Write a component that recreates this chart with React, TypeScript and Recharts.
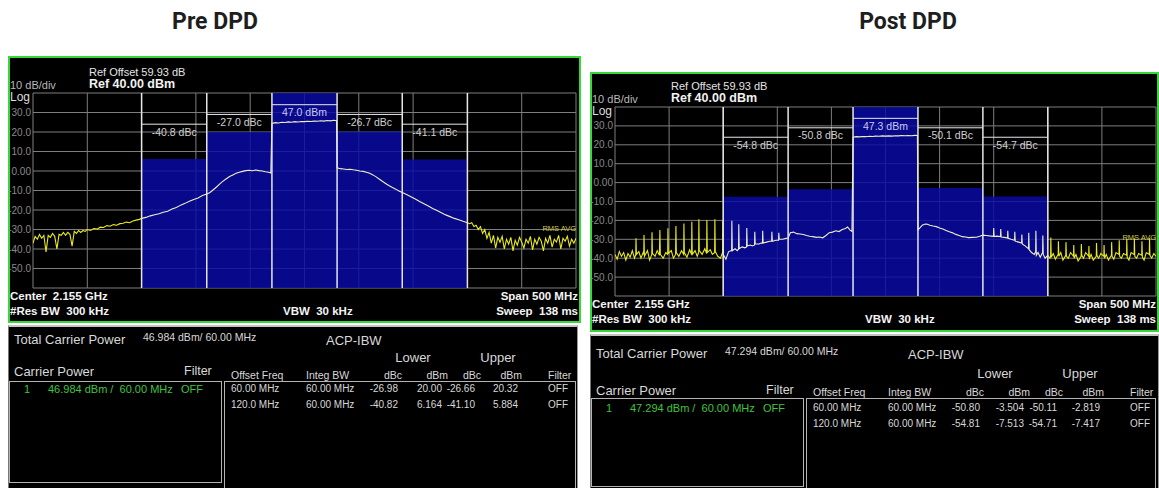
import React from "react";
import {
  ComposedChart,
  Line,
  XAxis,
  YAxis,
  CartesianGrid,
  ReferenceArea,
  ReferenceLine,
} from "recharts";

const FONT = '"Liberation Sans", Arial, Helvetica, sans-serif';

// channels, MHz offset from the 2.155 GHz centre
const channelOffsets = [-120, -60, 0, 60, 120];
const channelBw = 60;
const xTicks = [-250, -200, -150, -100, -50, 0, 50, 100, 150, 200, 250];
const yTicks = [40, 30, 20, 10, 0, -10, -20, -30, -40, -50, -60];

// ACP results: lower alt, lower adj, carrier, upper adj, upper alt
const preChannelDbm = [6.164, 20.0, 46.984, 20.32, 5.884];
const preChannelDbc = [-40.82, -26.98, 0, -26.66, -41.1];
const postChannelDbm = [-7.513, -3.504, 47.294, -2.819, -7.417];
const postChannelDbc = [-54.81, -50.8, 0, -50.11, -54.71];

const acpOffsets = ["60.00 MHz", "120.0 MHz"];
const acpIntegBw = "60.00 MHz";

// spectrum traces [MHz offset, dBm]
const preTrace: [number, number][] = [
  [-250, -37], [-248, -33.5], [-246, -35], [-244, -32.5], [-242, -34.5], [-240, -33],
  [-238, -41.5], [-236, -33], [-234, -34], [-232, -32], [-230, -33.5], [-228, -40],
  [-226, -32.5], [-224, -33], [-222, -31.5], [-220, -33], [-218, -31.5], [-216, -32.5],
  [-214, -38.5], [-212, -31], [-210, -32], [-208, -30.5], [-206, -31.5], [-204, -30.5],
  [-202, -31], [-200, -30], [-197, -30.5], [-194, -29.5], [-191, -29.8], [-188, -28.8],
  [-185, -29], [-182, -28], [-179, -28.3], [-176, -27.5], [-173, -27.8], [-170, -27],
  [-167, -26.8], [-164, -26.2], [-161, -26.5], [-158, -25.6], [-155, -25.2], [-152, -24.8],
  [-150, -24.3], [-146, -23.8], [-142, -23], [-138, -22.4], [-134, -21.9], [-130, -21.2],
  [-126, -20.6], [-122, -19.5], [-118, -18.7], [-114, -17.5], [-110, -16.6], [-106, -15.5],
  [-102, -14.6], [-98, -13.8], [-94, -12.6], [-90, -11.8], [-87, -11], [-84, -9.6],
  [-81, -8.2], [-78, -6.6], [-75, -5.2], [-72, -4], [-69, -2.8], [-66, -2], [-63, -1.2],
  [-60, -0.6], [-57, -0.2], [-54, 0.2], [-51, 0.4], [-48, 0.1], [-45, 0.5], [-42, 0.2],
  [-39, 0], [-36, -0.4], [-33, -0.6], [-31, -1], [-30, 24.4], [-27, 24.8], [-24, 24.6],
  [-21, 25], [-18, 24.9], [-15, 25.2], [-12, 25], [-9, 25.3], [-6, 25.1], [-3, 25.4],
  [0, 25.3], [3, 25.5], [6, 25.4], [9, 25.6], [12, 25.5], [15, 25.8], [18, 25.6],
  [21, 25.9], [24, 25.7], [27, 26], [29.5, 25.8], [30, 1.6], [33, 1.2], [36, 1], [39, 0.8],
  [42, 0.9], [45, 0.6], [48, 0.4], [51, 0], [54, -0.2], [57, -0.6], [60, -1.2], [63, -2],
  [66, -3], [69, -4.2], [72, -5.4], [75, -6.5], [78, -7.6], [81, -8.5], [84, -9.3],
  [87, -10.2], [90, -11], [94, -12], [98, -13.2], [102, -14.4], [106, -15.6], [110, -16.8],
  [114, -18], [118, -19.2], [122, -20.3], [126, -21.4], [130, -22.5], [134, -23.4],
  [138, -24.3], [142, -25], [146, -25.8], [150, -26.5], [152, -27], [154, -26.5],
  [156, -28.5], [158, -27.8], [160, -30], [162, -28.5], [164, -32], [166, -30],
  [168, -34.5], [170, -31.5], [172, -37], [174, -33], [176, -39.5], [178, -34],
  [180, -36.5], [182, -33.5], [184, -40], [186, -35], [188, -37.5], [190, -34],
  [192, -41], [194, -35.5], [196, -38], [198, -34], [200, -36.5], [202, -39.5],
  [204, -35], [206, -37], [208, -33.5], [210, -40.5], [212, -35], [214, -37.5],
  [216, -34], [218, -36], [220, -41], [222, -34.5], [224, -37], [226, -33], [228, -39],
  [230, -35], [232, -36.5], [234, -33], [236, -40], [238, -34.5], [240, -36],
  [242, -33.5], [244, -38.5], [246, -35], [248, -37], [250, -34.5],
];

const postTrace: [number, number][] = [
  [-250, -38], [-248, -40.5], [-246, -36.5], [-244, -39], [-242, -37], [-240, -41],
  [-238, -37.5], [-236, -39.5], [-234, -36], [-232, -40], [-230.8, -38], [-230.6, -29.5],
  [-230.2, -38], [-228, -36.5], [-226, -40], [-224, -37], [-223.4, -38], [-223.2, -27.7],
  [-222.8, -39], [-220, -36], [-218, -41], [-216, -38], [-215.8, -26.3], [-215.4, -37.5],
  [-213, -39], [-211, -36], [-209, -38.5], [-208.5, -25.1], [-208.1, -38], [-205.5, -40],
  [-203, -37], [-201.3, -38], [-201.1, -24.2], [-200.7, -37.5], [-198, -36], [-196, -40],
  [-194, -38], [-193.7, -23], [-193.3, -37], [-191, -39], [-188.5, -36], [-186.5, -38],
  [-186.3, -21.6], [-185.9, -37], [-183.5, -39.5], [-181, -35.5], [-179.2, -38],
  [-179, -20.7], [-178.6, -38], [-176, -36], [-174, -39], [-172.7, -37], [-172.5, -19.4],
  [-172.1, -36], [-169.5, -38], [-167, -35], [-165.3, -37.5], [-165.1, -19.8],
  [-164.7, -37], [-162, -35.5], [-160, -38], [-157.9, -37], [-157.7, -19.4],
  [-157.3, -36.5], [-155, -39], [-152.5, -40], [-150.6, -37], [-150.4, -20], [-150, -38],
  [-147.5, -40.5], [-145, -36.5], [-142.2, -36], [-142, -20.2], [-141.6, -36],
  [-139, -35], [-137, -36], [-135.8, -35], [-135.6, -22], [-135.2, -35], [-132.5, -34],
  [-130, -34.5], [-128.4, -34], [-128.2, -24], [-127.8, -33.5], [-125, -33],
  [-123, -33.5], [-121, -33], [-120.8, -26], [-120.4, -32.5], [-117, -32.5], [-115, -32],
  [-113.7, -32], [-113.5, -25.5], [-113.1, -32], [-110, -31.5], [-107, -31],
  [-105.2, -31], [-105, -26], [-104.6, -31], [-101, -30.5], [-98.8, -30.5],
  [-98.6, -26.5], [-98.2, -30], [-95, -30], [-92, -29.5], [-90, -29.3], [-88, -26.5],
  [-85, -26.2], [-82, -27], [-79, -27.2], [-76, -27.5], [-73, -28], [-70, -28.4],
  [-67, -28.6], [-64, -29], [-61, -28.8], [-58, -29.2], [-55, -28], [-52, -26.5],
  [-49, -26.2], [-46, -25.5], [-43, -25.9], [-40, -24.8], [-37, -24.3], [-35, -23.5],
  [-33, -25], [-31, -25.8], [-30, 24], [-27, 24.3], [-24, 24.2], [-21, 24.4], [-18, 24.3],
  [-15, 24.5], [-12, 24.4], [-9, 24.6], [-6, 24.5], [-3, 24.7], [0, 24.6], [3, 24.7],
  [6, 24.6], [9, 24.8], [12, 24.7], [15, 24.9], [18, 24.8], [21, 24.9], [24, 24.8],
  [27, 25], [29.5, 24.9], [30, -25], [32, -23.8], [34, -22.5], [36, -22], [38, -21.9],
  [41, -22.6], [44, -23], [47, -23.3], [50, -24], [53, -24.6], [56, -25.3], [59, -26],
  [62, -26.6], [65, -27.4], [68, -28], [71, -28.6], [74, -28.8], [77, -29.1], [80, -29],
  [84, -28.9], [87, -28.4], [90, -27.8], [93, -28], [96, -28.2], [99.8, -28.4], [100, -24],
  [100.4, -28.5], [103, -28.3], [106.3, -28.6], [106.5, -24.5], [106.9, -28.8], [110, -29],
  [112.8, -29.3], [113, -25.5], [113.4, -29.5], [116, -30], [119.3, -30.5], [119.5, -26],
  [119.9, -31], [123, -31.5], [125.8, -32], [126, -27.5], [126.4, -32.5], [129, -33.5],
  [132.2, -35], [132.4, -26.5], [132.8, -35.5], [135, -37], [137.5, -38], [138.8, -36.5],
  [139, -25.5], [139.4, -38.5], [141, -37], [143, -39.5], [145.2, -37], [145.4, -28],
  [145.8, -38], [147.5, -40], [150, -38.5], [152, -40], [152.6, -39], [152.8, -29],
  [153.2, -39.5], [155, -37.5], [157, -40.5], [159.6, -38], [159.8, -31], [160.2, -39],
  [162, -37], [164, -41], [166.6, -38.5], [166.8, -31.5], [167.2, -39], [169, -40],
  [171, -37], [173.8, -39], [174, -33], [174.4, -40], [176, -38], [178, -41.5],
  [180.8, -39], [181, -32.5], [181.4, -38.5], [183, -40], [185, -37], [187.8, -39],
  [188, -33.5], [188.4, -40.5], [190, -38], [192, -41], [194.8, -39], [195, -32],
  [195.4, -38.5], [197, -40], [199, -37.5], [201.8, -39], [202, -33], [202.4, -40],
  [204, -38], [206, -41], [208.8, -38.5], [209, -31.5], [209.4, -39], [211, -40.5],
  [213, -37], [215.8, -38], [216, -30.5], [216.4, -39], [218, -40], [220, -37.5],
  [222.8, -38.5], [223, -29.8], [223.4, -39.5], [225, -41], [227, -37], [229.8, -38],
  [230, -29.5], [230.4, -39], [232, -40], [234, -37.5], [236.8, -38.5], [237, -31],
  [237.4, -39.5], [239, -41], [241, -37], [243.8, -38], [244, -29.5], [244.4, -38.5],
  [246, -40], [248, -37.5], [250, -39],
];

type Box = { left: number; top: number; right: number; bottom: number };
type PanelSpec = {
  id: string;
  title: string;
  titleX: number;
  frame: Box;
  plot: Box;
  table: {
    top: number;
    right: number;
    tcp: number;
    lu: number;
    cp: number;
    hdr: number;
    box: number;
    r1: number;
    r2: number;
    cbBottom: number;
    acpRight: number;
  };
  trace: [number, number][];
  dbm: number[];
  dbc: number[];
};

const prePanel: PanelSpec = {
  id: "pre",
  title: "Pre DPD",
  titleX: 215,
  frame: { left: 8, top: 56, right: 581, bottom: 323 },
  plot: { left: 33, top: 93, right: 576, bottom: 288 },
  table: { top: 325, right: 578, tcp: 339, lu: 357, cp: 371, hdr: 375, box: 381, r1: 389, r2: 405, cbBottom: 483, acpRight: 576 },
  trace: preTrace,
  dbm: preChannelDbm,
  dbc: preChannelDbc,
};

const postPanel: PanelSpec = {
  id: "post",
  title: "Post DPD",
  titleX: 908,
  frame: { left: 590, top: 72, right: 1159, bottom: 332 },
  plot: { left: 615, top: 107, right: 1156, bottom: 296 },
  table: { top: 334, right: 1159, tcp: 353, lu: 373, cp: 390, hdr: 392, box: 398, r1: 408, r2: 424, cbBottom: 487, acpRight: 1156 },
  trace: postTrace,
  dbm: postChannelDbm,
  dbc: postChannelDbc,
};

function Txt({
  x,
  y,
  children,
  size = 11,
  color = "#d8d8d8",
  bold = false,
  anchor = "start",
  family = FONT,
}: {
  x: number;
  y: number;
  children: React.ReactNode;
  size?: number;
  color?: string;
  bold?: boolean;
  anchor?: "start" | "middle" | "end";
  family?: string;
}) {
  const tx = anchor === "start" ? "0" : anchor === "end" ? "-100%" : "-50%";
  return (
    <div
      style={{
        position: "absolute",
        left: x,
        top: y,
        transform: `translate(${tx}, -50%)`,
        fontSize: size,
        fontFamily: family,
        fontWeight: bold ? 700 : 400,
        color,
        whiteSpace: "pre",
        lineHeight: 1,
      }}
    >
      {children}
    </div>
  );
}

const fmt4 = (v: number) => v.toPrecision(4);

function Panel({ p }: { p: PanelSpec }) {
  const { frame, plot, table } = p;
  const L = frame.left;
  // axis box reaches a bit left of the frame so long labels like -10.0 fit
  const yAxisW = plot.left - frame.left + 6;
  const plotW = plot.right - plot.left;
  const plotH = plot.bottom - plot.top;
  const data = p.trace.map(([f, v]) => ({ f, v }));
  const edges = Array.from(
    new Set(channelOffsets.flatMap((c) => [c - channelBw / 2, c + channelBw / 2])),
  );
  const lo = -250;
  const span = 500;
  const inStart = (edges[0] - lo) / span;
  const inEnd = (edges[edges.length - 1] - lo) / span;
  const gradId = `trace-${p.id}`;
  const markerLevel = (c: number) => (c === 0 ? 34 : Math.abs(c) === 60 ? 29 : 24);
  const yOf = (v: number) => plot.top + ((40 - v) / 100) * plotH;

  const rows = acpOffsets.map((off, k) => {
    const li = 1 - k;
    const ui = 3 + k;
    return { off, ldbc: fmt4(p.dbc[li]), ldbm: fmt4(p.dbm[li]), udbc: fmt4(p.dbc[ui]), udbm: fmt4(p.dbm[ui]) };
  });
  const rowYs = [table.r1, table.r2];

  return (
    <>
      <Txt x={p.titleX} y={21} size={23} bold color="#1e1e1e" anchor="middle" family='Roboto, "Open Sans", sans-serif'>
        {p.title}
      </Txt>
      <div
        style={{
          position: "absolute",
          left: frame.left,
          top: frame.top,
          width: frame.right - frame.left,
          height: frame.bottom - frame.top,
          background: "#000",
          border: "2px solid #36d936",
          boxSizing: "border-box",
        }}
      />
      <div style={{ position: "absolute", left: plot.left - yAxisW, top: plot.top - 1 }}>
        <ComposedChart
          width={yAxisW + plotW + 1}
          height={plotH + 2}
          data={data}
          margin={{ top: 1, right: 1, bottom: 1, left: 0 }}
        >
          <defs>
            <linearGradient id={gradId} x1="0" y1="0" x2="1" y2="0">
              <stop offset={0} stopColor="#e9e91c" />
              <stop offset={inStart} stopColor="#e9e91c" />
              <stop offset={inStart} stopColor="#eeeec8" />
              <stop offset={inEnd} stopColor="#eeeec8" />
              <stop offset={inEnd} stopColor="#e9e91c" />
              <stop offset={1} stopColor="#e9e91c" />
            </linearGradient>
          </defs>
          <XAxis type="number" dataKey="f" domain={[-250, 250]} ticks={xTicks} hide allowDataOverflow />
          <YAxis
            type="number"
            domain={[-60, 40]}
            ticks={yTicks}
            interval={0}
            width={yAxisW}
            axisLine={false}
            tickLine={false}
            tickSize={0}
            tickMargin={2}
            allowDataOverflow
            tick={{ fill: "#8a8a8a", fontSize: 10, fontFamily: FONT }}
            tickFormatter={(v: number) => (v === 40 || v === -60 ? "" : v === 0 ? "0.00" : v.toFixed(1))}
          />
          {channelOffsets.map((c, i) => (
            <ReferenceArea
              key={`band-${c}`}
              x1={c - channelBw / 2}
              x2={c + channelBw / 2}
              y1={-60}
              y2={p.dbm[i]}
              fill="#0a0aa6"
              fillOpacity={0.84}
              stroke="none"
              ifOverflow="hidden"
            />
          ))}
          <CartesianGrid stroke="#7e7e7e" strokeWidth={1} />
          <Line
            type="linear"
            dataKey="v"
            stroke={`url(#${gradId})`}
            strokeWidth={1.1}
            dot={false}
            isAnimationActive={false}
          />
          {edges.map((e) => (
            <ReferenceLine key={`edge-${e}`} x={e} stroke="#e6e6e6" strokeWidth={1.5} />
          ))}
          {channelOffsets.map((c, i) => (
            <ReferenceLine
              key={`mk-${c}`}
              segment={[
                { x: c - channelBw / 2, y: markerLevel(c) },
                { x: c + channelBw / 2, y: markerLevel(c) },
              ]}
              stroke="#e8e8e8"
              strokeWidth={1}
              label={{
                value: c === 0 ? `${p.dbm[i].toFixed(1)} dBm` : `${p.dbc[i].toFixed(1)} dBc`,
                position: "bottom",
                offset: 4,
                fill: c === 0 ? "#c8c8ee" : "#d0d0d0",
                fontSize: 10.5,
                fontFamily: FONT,
              }}
            />
          ))}
        </ComposedChart>
      </div>

      {/* instrument annotations */}
      <Txt x={L + 81} y={plot.top - 21} size={11} color="#e4e4e4">Ref Offset 59.93 dB</Txt>
      <Txt x={L + 81} y={plot.top - 9} size={12.5} bold color="#f2f2f2">Ref 40.00 dBm</Txt>
      <Txt x={L + 2} y={plot.top - 8} size={11} color="#b8b8b8">10 dB/div</Txt>
      <Txt x={L + 2} y={plot.top + 4} size={12} color="#dcdcdc">Log</Txt>
      <Txt x={plot.right} y={yOf(-29.5)} size={7.5} color="#c9c94a" anchor="end">RMS AVG</Txt>
      <Txt x={L + 2} y={plot.bottom + 9} size={11.5} bold color="#f4f4f4">{"Center  2.155 GHz"}</Txt>
      <Txt x={L + 2} y={plot.bottom + 24} size={11.5} bold color="#f4f4f4">{"#Res BW  300 kHz"}</Txt>
      <Txt x={L + 275} y={plot.bottom + 24} size={11.5} bold color="#f4f4f4">{"VBW  30 kHz"}</Txt>
      <Txt x={frame.right - 3} y={plot.bottom + 9} size={11.5} bold color="#f4f4f4" anchor="end">Span 500 MHz</Txt>
      <Txt x={frame.right - 3} y={plot.bottom + 24} size={11.5} bold color="#f4f4f4" anchor="end">{"Sweep  138 ms"}</Txt>

      {/* ACP table */}
      <div
        style={{
          position: "absolute",
          left: L,
          top: table.top,
          width: table.right - L,
          height: 488 - table.top + 4,
          background: "#000",
          borderTop: "2px solid #c4c4c4",
          borderLeft: "1px solid #777",
          borderRight: "1px solid #999",
          boxSizing: "border-box",
        }}
      />
      <div
        style={{
          position: "absolute",
          left: L + 1,
          top: table.box,
          width: 213,
          height: table.cbBottom - table.box,
          border: "1px solid #b4b4b4",
          boxSizing: "border-box",
        }}
      />
      <div
        style={{
          position: "absolute",
          left: L + 216,
          top: table.box,
          width: table.acpRight - (L + 216),
          height: 488 - table.box + 10,
          border: "1px solid #b4b4b4",
          boxSizing: "border-box",
        }}
      />
      <Txt x={L + 6} y={table.tcp} size={13}>Total Carrier Power</Txt>
      <Txt x={L + 135} y={table.tcp - 2} size={10.5}>{`${p.dbm[2].toFixed(3)} dBm/ 60.00 MHz`}</Txt>
      <Txt x={L + 318} y={table.tcp + 1} size={13}>ACP-IBW</Txt>
      <Txt x={L + 405} y={table.lu} size={13} anchor="middle">Lower</Txt>
      <Txt x={L + 490} y={table.lu} size={13} anchor="middle">Upper</Txt>
      <Txt x={L + 6} y={table.cp} size={13}>Carrier Power</Txt>
      <Txt x={L + 176} y={table.cp} size={12.5}>Filter</Txt>
      <Txt x={L + 223} y={table.hdr} size={10.5}>Offset Freq</Txt>
      <Txt x={L + 298} y={table.hdr} size={10.5}>Integ BW</Txt>
      <Txt x={L + 394} y={table.hdr} size={10.5} anchor="end">dBc</Txt>
      <Txt x={L + 440} y={table.hdr} size={10.5} anchor="end">dBm</Txt>
      <Txt x={L + 473} y={table.hdr} size={10.5} anchor="end">dBc</Txt>
      <Txt x={L + 514} y={table.hdr} size={10.5} anchor="end">dBm</Txt>
      <Txt x={L + 540} y={table.hdr} size={10.5}>Filter</Txt>
      <Txt x={L + 16} y={table.r1} size={11} color="#3fc43f">1</Txt>
      <Txt x={L + 40} y={table.r1} size={11} color="#3fc43f">{`${p.dbm[2].toFixed(3)} dBm /  60.00 MHz`}</Txt>
      <Txt x={L + 173} y={table.r1} size={11} color="#3fc43f">OFF</Txt>
      {rows.map((r, k) => (
        <React.Fragment key={r.off}>
          <Txt x={L + 223} y={rowYs[k]} size={10}>{r.off}</Txt>
          <Txt x={L + 298} y={rowYs[k]} size={10}>{acpIntegBw}</Txt>
          <Txt x={L + 390} y={rowYs[k]} size={10} anchor="end">{r.ldbc}</Txt>
          <Txt x={L + 434} y={rowYs[k]} size={10} anchor="end">{r.ldbm}</Txt>
          <Txt x={L + 467} y={rowYs[k]} size={10} anchor="end">{r.udbc}</Txt>
          <Txt x={L + 510} y={rowYs[k]} size={10} anchor="end">{r.udbm}</Txt>
          <Txt x={L + 540} y={rowYs[k]} size={10}>OFF</Txt>
        </React.Fragment>
      ))}
    </>
  );
}

export default function App() {
  return (
    <div
      style={{
        position: "fixed",
        left: 0,
        top: 0,
        width: 1159,
        height: 488,
        overflow: "hidden",
        background: "#fff",
      }}
    >
      <Panel p={prePanel} />
      <Panel p={postPanel} />
    </div>
  );
}
